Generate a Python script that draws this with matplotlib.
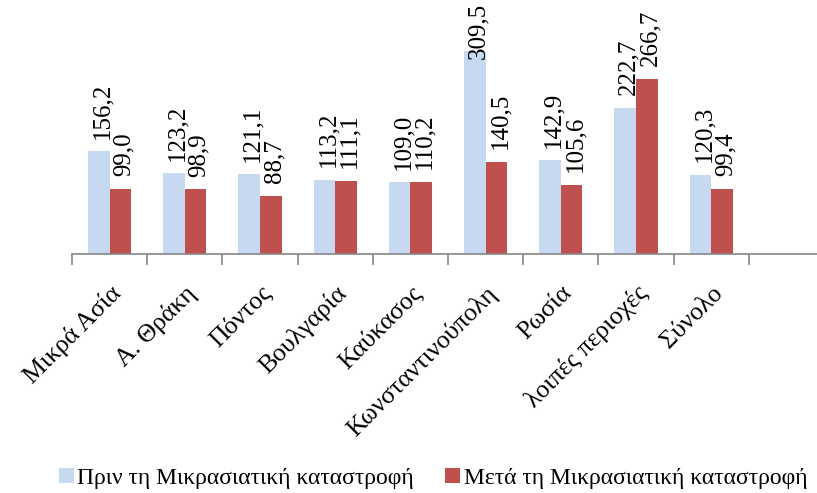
import matplotlib.pyplot as plt
import numpy as np

plt.rcParams['font.family'] = ['Liberation Serif', 'DejaVu Serif']

# ---- data ----
regions = ['Μικρά Ασία', 'Α. Θράκη', 'Πόντος', 'Βουλγαρία', 'Καύκασος',
           'Κωνσταντινούπολη', 'Ρωσία', 'λοιπές περιοχές', 'Σύνολο']
before = [156.2, 123.2, 121.1, 113.2, 109.0, 309.5, 142.9, 222.7, 120.3]
after = [99.0, 98.9, 88.7, 111.1, 110.2, 140.5, 105.6, 266.7, 99.4]
before_label = 'Πριν τη Μικρασιατική καταστροφή'
after_label = 'Μετά τη Μικρασιατική καταστροφή'

light = '#C6D9F1'
red = '#C0504D'
grey = '#868686'

fig = plt.figure(figsize=(8.17, 4.93), dpi=100)
ax = fig.add_axes([72 / 817, (493 - 254) / 493, 752 / 817, 230 / 493])

ind = np.arange(len(regions))
width = 0.287

b1 = ax.bar(ind - width / 2, before, width, color=light, label=before_label)
b2 = ax.bar(ind + width / 2, after, width, color=red, label=after_label)

# value labels, comma decimal, rotated
labels = []
for rects, vals in ((b1, before), (b2, after)):
    for r, v in zip(rects, vals):
        t = ax.annotate(('%.1f' % v).replace('.', ','),
                        (r.get_x() + r.get_width() / 2, r.get_height()),
                        xytext=(2.5, 9), textcoords='offset points',
                        rotation=90, ha='center', va='bottom',
                        fontsize=18, annotation_clip=False)
        labels.append(t)

ax.set_xlim(-0.5, 9.5)
ax.set_ylim(0, 350)

# ticks between categories, labels at category centres
ax.set_xticks(np.arange(-0.5, 9.0, 1.0))
ax.set_xticklabels([])
ax.set_xticks(ind, minor=True)
ax.set_xticklabels(regions, minor=True, rotation=45, ha='right',
                   rotation_mode='anchor', fontsize=18.5)
ax.tick_params(axis='x', which='major', direction='out', length=8,
               color=grey, width=1.2)
ax.tick_params(axis='x', which='minor', length=0, pad=20)
ax.set_yticks([])

for s in ['top', 'right', 'left']:
    ax.spines[s].set_visible(False)
ax.spines['bottom'].set_color(grey)
ax.spines['bottom'].set_linewidth(1.2)

fig.legend(handles=[b1, b2], loc='center', bbox_to_anchor=(0.53, 0.03),
           ncol=2, frameon=False, fontsize=17, handlelength=0.65,
           handleheight=0.65, handletextpad=0.15, columnspacing=1.3)

# push labels that would run off the top back inside the figure
fig.canvas.draw()
top = fig.bbox.height - 3
for t in labels:
    bb = t.get_window_extent()
    if bb.y1 > top:
        over = (bb.y1 - top) * 72.0 / fig.dpi
        x, y = t.xyann
        t.xyann = (x, y - over)

plt.savefig('out.png', dpi=100)
